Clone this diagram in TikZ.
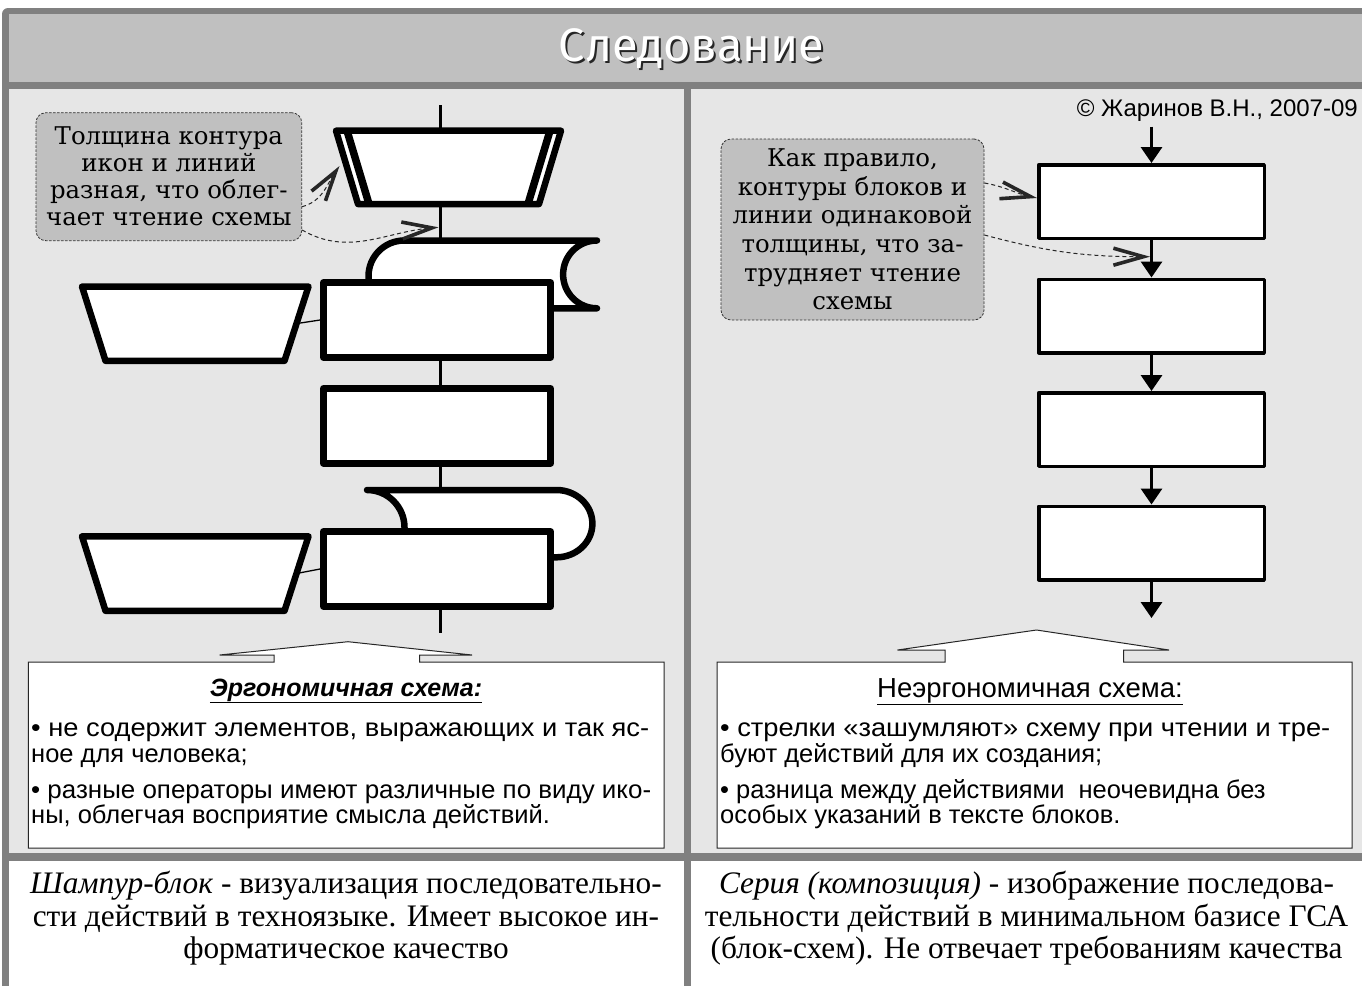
\documentclass[tikz,border=0pt]{standalone}
\usepackage{fontspec}
\usepackage{graphicx}
\usetikzlibrary{arrows.meta}
\newfontfamily\notefont{DejaVu Serif}
\newfontfamily\armfont{Liberation Sans}
\newfontfamily\capfont{Liberation Serif}
\newfontfamily\titlefont{Fira Sans}
\definecolor{framegray}{HTML}{808080}
\definecolor{bandgray}{HTML}{C0C0C0}
\definecolor{panelgray}{HTML}{E6E6E6}
\definecolor{notegray}{HTML}{C0C0C0}
\newcommand{\fsz}[2]{\fontsize{#1}{#2}\selectfont}
% a line widened to a given measure, keeping its height
\newcommand{\fullline}[2]{\resizebox{#1}{\height}{#2}}

\begin{document}
\begin{tikzpicture}[x=1pt,y=-1pt,
  heavy/.style={draw=black,fill=white,line width=6.5pt,line join=round},
  spine/.style={draw=black,line width=3.3pt},
  blockL/.style={heavy,rectangle,minimum width=227.4pt,minimum height=75pt,inner sep=0pt},
  blockR/.style={draw=black,fill=white,line width=3.5pt,line join=round,rectangle,
    minimum width=225.5pt,minimum height=73.5pt,inner sep=0pt},
  flow/.style={draw=black,line width=3.3pt,-{Triangle[length=16pt,width=21pt]}},
  note/.style={rectangle,rounded corners=10pt,fill=notegray,draw=black!80,line width=0.8pt,
    dash pattern=on 2.5pt off 1.5pt,inner sep=0pt,align=center,font=\notefont\fsz{24.4}{27}},
  hint/.style={draw=black!85,line width=1pt,dash pattern=on 4pt off 3pt,
    -{Straight Barb[length=30pt,width=17pt,line width=3.6pt]}},
  tie/.style={draw=black,line width=1.3pt},
  callbox/.style={draw=black!85,fill=white,line width=1pt,line join=miter},
  boxhead/.style={anchor=base,inner sep=0pt,font=\armfont\fsz{27.5}{30}},
  boxtext/.style={anchor=base west,inner sep=0pt,font=\armfont\fsz{25.5}{30}},
  captext/.style={anchor=base,inner sep=0pt,font=\capfont\fsz{31.3}{33}},
]
\useasboundingbox (0,0) rectangle (1362,985);

% frame, title band, panels and caption fields
\fill[white] (0,0) rectangle (1362,985);
\fill[framegray,rounded corners=6pt] (2,8) rectangle (1400,1020);
\fill[bandgray] (9,14) rectangle (1400,82);
\fill[panelgray] (9,89) rectangle (684,853);
\fill[panelgray] (691,89) rectangle (1400,853);
\fill[white] (9,861) rectangle (684,1020);
\fill[white] (691,861) rectangle (1400,1020);

% title with shadow
\node[font=\titlefont\fsz{47}{52},text=black!85] (titleshade) at (693.5,51) {Следование};
\node[font=\titlefont\fsz{47}{52},text=white] (title) at (691.5,49) {Следование};

\node[anchor=base east,inner sep=0pt,font=\armfont\fsz{24}{28}] (copy) at (1358,116)
  {© Жаринов В.Н., 2007-09};

% ---------- left panel: skewer block ----------
\coordinate (spTop) at (440.5,105);
\coordinate (spBot) at (440.5,633);
\draw[spine] (spTop) -- (spBot);

% input trapezoid with doubled sides
\coordinate (t0a) at (336,130.7);
\coordinate (t0b) at (561,130.7);
\coordinate (t0c) at (539,204);
\coordinate (t0d) at (358,204);
\draw[heavy] (t0a) -- (t0b) -- (t0c) -- (t0d) -- cycle;
\draw[line width=7.5pt] (347,130.7) -- (369,204);
\draw[line width=7.5pt] (550,130.7) -- (528,204);
\coordinate (t0hit) at (339.5,166);
\coordinate (spHit) at (438.5,227.3);

% output shape (rounded corner, concave right end)
\draw[heavy] (368.5,308.3) -- (368.5,276.2) arc[start angle=180,end angle=270,radius=35.7]
  -- (597,240.5) arc[start angle=270,end angle=90,radius=33.9] -- cycle;

\node[blockL] (r1) at (437,320) {};
\draw[heavy] (82,286.5) -- (308.5,286.5) -- (284.5,360.8) -- (105.5,360.8) -- cycle;
\coordinate (l1r) at (296.5,323.6);
\draw[tie] (l1r) -- (r1.west);

\node[blockL] (r2) at (437,425.9) {};

% output shape (concave corner, round right end)
\draw[heavy] (404.5,557.3) -- (404.5,527.5) arc[start angle=0,end angle=-90,radius=37.5]
  -- (556.4,490) arc[start angle=-90,end angle=90,x radius=36,y radius=33.65] -- cycle;

\node[blockL] (r3) at (437,569) {};
\draw[heavy] (82,536.3) -- (308.5,536.3) -- (284.5,610.8) -- (105.5,610.8) -- cycle;
\coordinate (l2r) at (296.5,573.5);
\draw[tie] (l2r) -- (r3.west);

% note on the left
\node[note,minimum width=265.7pt,minimum height=128pt] (noteL) at (168.85,176.7)
  {Толщина контура\\икон и линий\\разная, что облег-\\чает чтение схемы};
\draw[hint] ([yshift=-30pt]noteL.east) to[out=15,in=235] (t0hit);
\draw[hint] ([yshift=-53.3pt]noteL.east) to[out=-30,in=185] (spHit);

% ---------- right panel: series of blocks ----------
\coordinate (rTop) at (1151.5,126.7);
\node[blockR] (R1) at (1151.5,201.5) {};
\node[blockR] (R2) at (1151.5,316) {};
\node[blockR] (R3) at (1151.5,429.5) {};
\node[blockR] (R4) at (1151.5,543) {};
\coordinate (rBot) at (1151.5,618);
\draw[flow] (rTop) -- (R1.north);
\draw[flow] (R1.south) -- (R2.north);
\draw[flow] (R2.south) -- (R3.north);
\draw[flow] (R3.south) -- (R4.north);
\draw[flow] (R4.south) -- (rBot);
\coordinate (rHit) at (1150,256.7);

\node[note,minimum width=263pt,minimum height=181pt,font=\notefont\fsz{24.4}{28.6}] (noteR) at (852.5,229.5)
  {Как правило,\\контуры блоков и\\линии одинаковой\\толщины, что за-\\трудняет чтение\\схемы};
\draw[hint] ([yshift=46.5pt]noteR.east) to[out=-10,in=168] ([yshift=3.5pt]R1.west);
\draw[hint] ([yshift=-5.5pt]noteR.east) to[out=-15,in=180] (rHit);

% ---------- comment boxes ----------
\draw[callbox] (28.3,662) -- (274,662) -- (274,655) -- (219.6,655) -- (348,641.7) -- (472,655)
  -- (419.6,655) -- (419.6,662) -- (664,662) -- (664,848) -- (28.3,848) -- cycle;
\node[boxhead,font=\armfont\bfseries\itshape\fsz{25}{28}] (headL) at (346,696) {\underline{Эргономичная схема:}};
\node[boxtext] (bl1) at (31,736) {\fullline{618pt}{• не содержит элементов, выражающих и так яс-}};
\node[boxtext] (bl2) at (31,762) {ное для человека;};
\node[boxtext] (bl3) at (31,798) {\fullline{620pt}{• разные операторы имеют различные по виду ико-}};
\node[boxtext] (bl4) at (31,823) {ны, облегчая восприятие смысла действий.};

\draw[callbox] (717,662) -- (945,662) -- (945,650) -- (897.5,650) -- (1036.5,630) -- (1169,650)
  -- (1123.6,650) -- (1123.6,662) -- (1352,662) -- (1352,848) -- (717,848) -- cycle;
\node[boxhead] (headR) at (1030,697) {\underline{Неэргономичная схема:}};
\node[boxtext] (br1) at (720,736) {\fullline{610pt}{• стрелки «зашумляют» схему при чтении и тре-}};
\node[boxtext] (br2) at (720,762) {буют действий для их создания;};
\node[boxtext] (br3) at (720,798) {• разница между действиями\ \ неочевидна без};
\node[boxtext] (br4) at (720,823) {особых указаний в тексте блоков.};

% ---------- captions ----------
\node[captext] (cl1) at (346,893) {\textit{Шампур-блок} - визуализация последовательно-};
\node[captext] (cl2) at (346,926) {сти действий в техноязыке. Имеет высокое ин-};
\node[captext] (cl3) at (346,958) {форматическое качество};
\node[captext] (cr1) at (1026.5,893) {\textit{Серия (композиция)} - изображение последова-};
\node[captext] (cr2) at (1026.5,926) {тельности действий в минимальном базисе ГСА};
\node[captext] (cr3) at (1026.5,958) {(блок-схем). Не отвечает требованиям качества};
\end{tikzpicture}
\end{document}
